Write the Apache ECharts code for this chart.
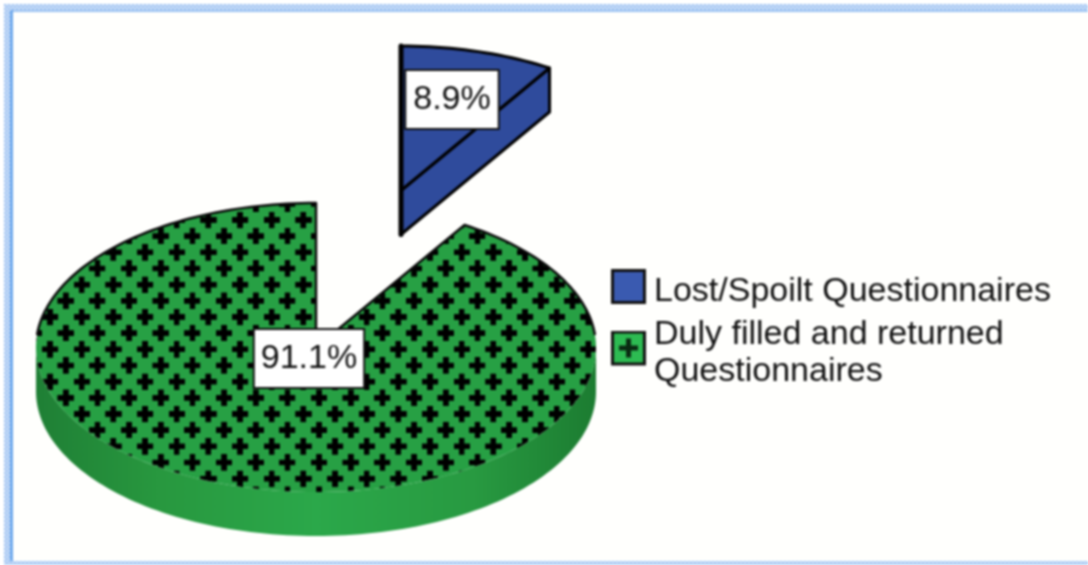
<!DOCTYPE html>
<html><head><meta charset="utf-8">
<style>html,body{margin:0;padding:0;background:#fff;overflow:hidden}#c{width:1088px;height:565px;filter:blur(0.8px)}</style>
<script src="https://cdn.jsdelivr.net/npm/echarts@6/dist/echarts.min.js"></script>
</head><body><div id="c"></div>
<script>
const categories = ['Lost/Spoilt Questionnaires', 'Duly filled and returned\nQuestionnaires'];
const percents = [8.9, 91.1];
const faceColors = ['#2f4b9c', '#27a044'];
const swatchColors = ['#3a5ab0', '#2dbb52'];

const CENTER = [316, 347.5], RX = 280, RY = 144.5, DEPTH = 44;
const OFFSETS = [[85, -157], [0, 0]];
const LABEL_SHIFT = [[51, -91], [-7, 11]];
const LABEL_PAD = [[9, 7], [9, 6]];

function startAngle(i) { return percents.slice(0, i).reduce((a, b) => a + b, 0) * 3.6; }
function pt(cx, cy, deg, dy) {
  const r = deg * Math.PI / 180;
  return [cx + RX * Math.sin(r), cy - RY * Math.cos(r) + (dy || 0)];
}
function arc(cx, cy, a0, a1, dy) {
  const n = Math.max(2, Math.ceil(Math.abs(a1 - a0) / 1.5)), out = [];
  for (let k = 0; k <= n; k++) out.push(pt(cx, cy, a0 + (a1 - a0) * k / n, dy));
  return out;
}
function plusTile() {
  const w = 95, h = 97, c = document.createElement('canvas');
  c.width = w; c.height = h;
  const g = c.getContext('2d');
  g.fillStyle = faceColors[1]; g.fillRect(0, 0, w, h);
  g.fillStyle = '#000';
  [[w / 4, h / 4], [3 * w / 4, 3 * h / 4]].forEach(p => {
    g.fillRect(p[0] - 25, p[1] - 8.5, 50, 17);
    g.fillRect(p[0] - 8.5, p[1] - 25, 17, 50);
  });
  return c;
}
function checkerTile() {
  const c = document.createElement('canvas');
  c.width = 4; c.height = 4;
  const g = c.getContext('2d');
  g.fillStyle = '#dbe8fa'; g.fillRect(0, 0, 4, 4);
  g.fillStyle = '#94bcf0'; g.fillRect(0, 0, 2, 2); g.fillRect(2, 2, 2, 2);
  return c;
}
function swatch(i) {
  const s = 35, c = document.createElement('canvas');
  c.width = s; c.height = s + 10;
  const g = c.getContext('2d');
  g.fillStyle = '#111'; g.fillRect(0, 0, s, s);
  g.fillStyle = swatchColors[i]; g.fillRect(3, 3, s - 6, s - 6);
  if (i === 1) { g.fillStyle = '#0a2a12'; g.fillRect(8, 15, 19, 5); g.fillRect(15, 8, 5, 19); }
  return c.toDataURL();
}
const plusFill = { image: plusTile(), repeat: 'repeat', x: 10.4, y: 17.9, scaleX: 1 / 3, scaleY: 1 / 3 };
const wallFill = { type: 'linear', x: 0, y: 0, x2: 1, y2: 0, colorStops: [
  { offset: 0, color: '#1f7f35' }, { offset: 0.22, color: '#28983f' }, { offset: 0.5, color: '#2ba84a' },
  { offset: 0.78, color: '#289a41' }, { offset: 1, color: '#1c7c31' }] };

function renderSlice(i) {
  return function (params, api) {
    const value = api.value(0);
    const a0 = startAngle(i), a1 = a0 + value * 3.6;
    const cx = CENTER[0] + OFFSETS[i][0], cy = CENTER[1] + OFFSETS[i][1];
    const apex = [cx, cy], children = [];
    if (i === 0) {
      const e = pt(cx, cy, a1);
      children.push({ type: 'polygon', shape: { points: [apex, e, [e[0], e[1] + DEPTH], [cx, cy + DEPTH]] },
        style: { fill: faceColors[0], stroke: '#000', lineWidth: 3, lineJoin: 'round' } });
      children.push({ type: 'polygon', shape: { points: [apex].concat(arc(cx, cy, a0, a1)) },
        style: { fill: faceColors[0], stroke: '#000', lineWidth: 3, lineJoin: 'round' } });
      children.push({ type: 'line', shape: { x1: cx, y1: cy - RY, x2: cx, y2: cy + DEPTH },
        style: { stroke: '#000', lineWidth: 5, lineCap: 'round' } });
    } else {
      const front = arc(cx, cy, 90, 270);
      const frontLow = arc(cx, cy, 270, 90, DEPTH);
      children.push({ type: 'polygon', shape: { points: front.concat(frontLow) }, style: { fill: wallFill } });
      children.push({ type: 'polygon', shape: { points: [apex].concat(arc(cx, cy, a0, a1)) }, style: { fill: plusFill } });
      const outline = arc(cx, cy, 85, a0).concat([apex]).concat(arc(cx, cy, a1, 275));
      children.push({ type: 'polyline', shape: { points: outline },
        style: { fill: 'none', stroke: '#0a0a0a', lineWidth: 2.5, lineJoin: 'round' } });
    }
    children.push({ type: 'text', z2: 10, style: {
      text: value.toFixed(1) + '%', x: cx + LABEL_SHIFT[i][0], y: cy + LABEL_SHIFT[i][1],
      align: 'center', verticalAlign: 'middle', font: '34px "Liberation Sans", Arial, sans-serif',
      fill: '#111', backgroundColor: '#fff', borderColor: '#111', borderWidth: 2, padding: LABEL_PAD[i], lineHeight: 39 } });
    return { type: 'group', children: children };
  };
}

const chart = echarts.init(document.getElementById('c'), null, { renderer: 'canvas' });
const checker = { image: checkerTile(), repeat: 'repeat' };
chart.setOption({
  animation: false,
  backgroundColor: '#fffffd',
  graphic: { elements: [
    { type: 'rect', z: -1, shape: { x: 0, y: 0, width: 1088, height: 4 }, style: { fill: '#fff' } },
    { type: 'rect', z: -1, shape: { x: 0, y: 0, width: 4, height: 565 }, style: { fill: '#fff' } },
    { type: 'rect', z: -1, shape: { x: 4, y: 4, width: 1084, height: 6 }, style: { fill: checker } },
    { type: 'rect', z: -1, shape: { x: 4, y: 4, width: 6, height: 561 }, style: { fill: checker } },
    { type: 'rect', z: -1, shape: { x: 10, y: 10, width: 1078, height: 2 }, style: { fill: '#9cc3f2' } },
    { type: 'rect', z: -1, shape: { x: 10, y: 10, width: 3, height: 555 }, style: { fill: '#6fa9ec' } },
    { type: 'rect', z: -1, shape: { x: 10, y: 561, width: 1078, height: 4 }, style: { fill: checker } }
  ] },
  legend: {
    orient: 'vertical', left: 611, top: 269, padding: 0, itemWidth: 35, itemHeight: 45, itemGap: 2,
    selectedMode: false,
    data: categories.map((n, i) => ({ name: n, icon: 'image://' + swatch(i) })),
    textStyle: { fontFamily: '"Liberation Sans", Arial, sans-serif', fontSize: 34, lineHeight: 37, color: '#111', padding: [0, 0, 0, 3] }
  },
  series: categories.map((n, i) => ({
    name: n, type: 'custom', coordinateSystem: 'none', z: i === 0 ? 3 : 2,
    itemStyle: { color: swatchColors[i] }, silent: true,
    renderItem: renderSlice(i), data: [[percents[i]]]
  }))
});
</script></body></html>
